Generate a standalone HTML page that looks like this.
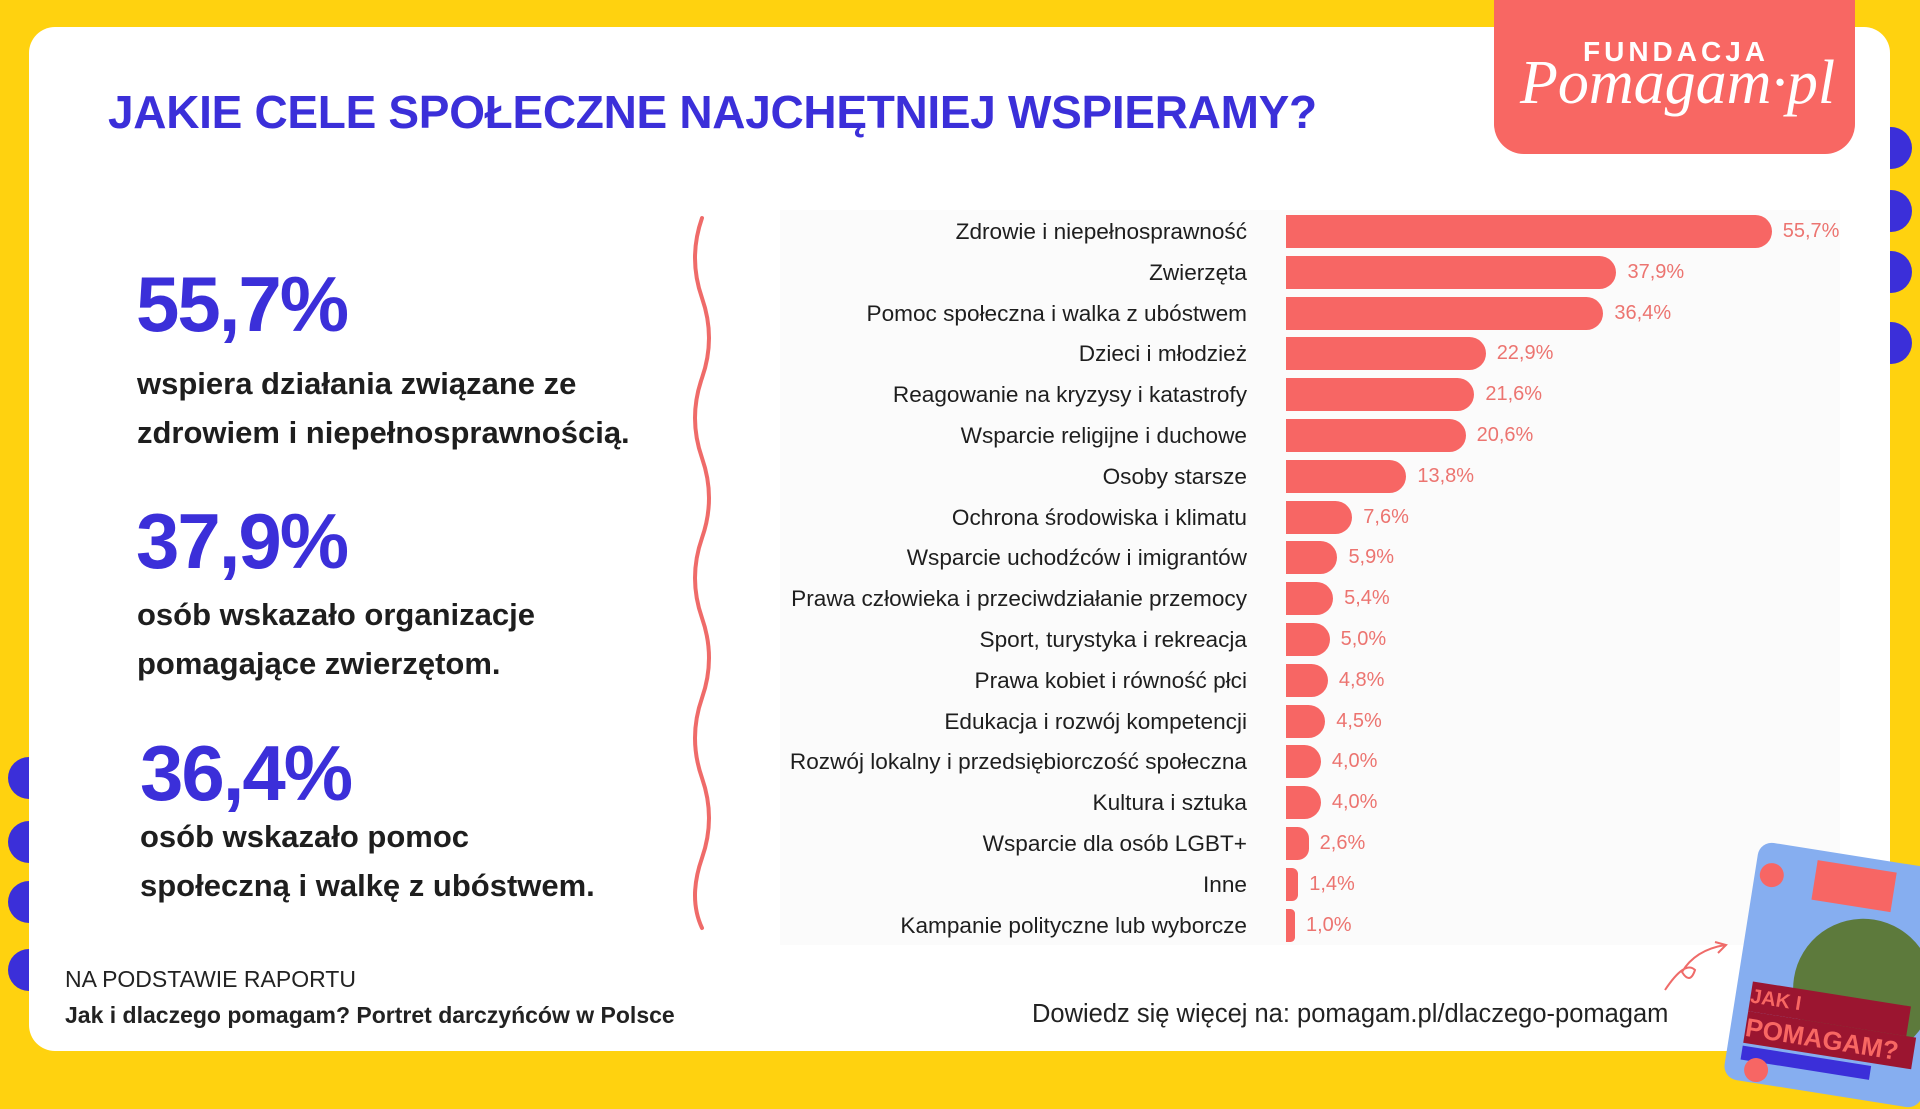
<!DOCTYPE html>
<html><head><meta charset="utf-8"><style>
body{margin:0;width:1920px;height:1080px;background:#ffd20f;position:relative;overflow:hidden;font-family:"Liberation Sans",sans-serif;}
.card{position:absolute;left:29px;top:27px;width:1861px;height:1024px;background:#fff;border-radius:26px;}
.a{position:absolute;white-space:nowrap;}
.dot{position:absolute;width:42px;height:42px;border-radius:50%;background:#3b2fd9;}
.big{position:absolute;font-size:78px;font-weight:bold;color:#3b2fd9;letter-spacing:-2px;}
.txt{position:absolute;font-size:31px;font-weight:bold;color:#1e1e1e;line-height:49px;}
.lab{position:absolute;right:673px;font-size:22.6px;color:#1e1e1e;text-align:right;white-space:nowrap;}
.bar{position:absolute;left:1286px;height:33px;background:#f76664;border-radius:0 17px 17px 0;}
.val{position:absolute;font-size:20px;color:#ec7470;}
</style></head><body>
<div class="dot" style="left:1870px;top:127px"></div>
<div class="dot" style="left:1870px;top:190px"></div>
<div class="dot" style="left:1870px;top:251px"></div>
<div class="dot" style="left:1870px;top:322px"></div>
<div class="dot" style="left:8px;top:757px"></div>
<div class="dot" style="left:8px;top:821px"></div>
<div class="dot" style="left:8px;top:881px"></div>
<div class="dot" style="left:8px;top:949px"></div>
<div class="card"></div>
<div style="position:absolute;left:1494px;top:0;width:361px;height:154px;background:#f86763;border-radius:0 0 30px 30px;"></div>
<div class="a" style="left:1583px;top:36px;color:#fff;font-size:28px;font-weight:bold;letter-spacing:4px;">FUNDACJA</div>
<div class="a" style="left:1520px;top:48px;color:#fff;font-size:62px;font-family:'Liberation Serif',serif;font-style:italic;">Pomagam·pl</div>
<div class="a" style="left:108px;top:85px;color:#3b2fd9;font-size:46px;font-weight:bold;letter-spacing:-0.3px;">JAKIE CELE SPOŁECZNE NAJCHĘTNIEJ WSPIERAMY?</div>

<div class="big" style="left:136px;top:259px">55,7%</div>
<div class="txt" style="left:137px;top:359px">wspiera działania związane ze<br>zdrowiem i niepełnosprawnością.</div>
<div class="big" style="left:136px;top:496px">37,9%</div>
<div class="txt" style="left:137px;top:590px">osób wskazało organizacje<br>pomagające zwierzętom.</div>
<div class="big" style="left:140px;top:728px">36,4%</div>
<div class="txt" style="left:140px;top:812px">osób wskazało pomoc<br>społeczną i walkę z ubóstwem.</div>

<svg style="position:absolute;left:680px;top:210px" width="40" height="730"><path d="M22 8 Q8 48 22 88 T22 168 T22 248 T22 328 T22 408 T22 488 T22 568 T22 648 T22 718" fill="none" stroke="#ef6b69" stroke-width="4" stroke-linecap="round"/></svg>

<div style="position:absolute;left:780px;top:210px;width:1060px;height:735px;background:#fbfbfb;"></div>

<div class="a" style="left:65px;top:966px;font-size:23px;color:#222;">NA PODSTAWIE RAPORTU</div>
<div class="a" style="left:65px;top:1002px;font-size:23px;font-weight:bold;color:#222;">Jak i dlaczego pomagam? Portret darczyńców w Polsce</div>
<div class="a" style="left:1032px;top:1000px;font-size:25.5px;color:#222;">Dowiedz się więcej na: pomagam.pl/dlaczego-pomagam</div>
<svg style="position:absolute;left:1660px;top:940px" width="70" height="55"><path d="M5 50 Q25 20 35 30 Q30 45 22 32 Q35 10 65 5 M55 2 L66 5 L58 13" fill="none" stroke="#ef6b69" stroke-width="2"/></svg>
<div style="position:absolute;left:1740px;top:855px;width:200px;height:240px;background:#86aef0;border-radius:14px;transform:rotate(9deg);overflow:hidden;">
 <div style="position:absolute;left:60px;top:10px;width:80px;height:40px;background:#f76664;"></div>
 <div style="position:absolute;left:55px;top:60px;width:140px;height:140px;border-radius:50%;background:#5d7a3c;"></div>
 <div style="position:absolute;left:15px;top:140px;width:160px;height:30px;background:#9b1530;color:#f86763;font-weight:bold;font-size:20px;line-height:30px;">JAK I DLACZEGO</div>
 <div style="position:absolute;left:15px;top:170px;width:170px;height:32px;background:#9b1530;color:#f86763;font-weight:bold;font-size:26px;line-height:32px;">POMAGAM?</div>
 <div style="position:absolute;left:15px;top:205px;width:130px;height:14px;background:#3b2fd9;"></div>
 <div style="position:absolute;left:5px;top:20px;width:24px;height:24px;border-radius:50%;background:#f76664;"></div>
 <div style="position:absolute;left:20px;top:215px;width:24px;height:24px;border-radius:50%;background:#f76664;"></div>
</div>

<div id="chart"></div>
<script>
var d=[["Zdrowie i niepełnosprawność",55.7],["Zwierzęta",37.9],["Pomoc społeczna i walka z ubóstwem",36.4],["Dzieci i młodzież",22.9],["Reagowanie na kryzysy i katastrofy",21.6],["Wsparcie religijne i duchowe",20.6],["Osoby starsze",13.8],["Ochrona środowiska i klimatu",7.6],["Wsparcie uchodźców i imigrantów",5.9],["Prawa człowieka i przeciwdziałanie przemocy",5.4],["Sport, turystyka i rekreacja",5.0],["Prawa kobiet i równość płci",4.8],["Edukacja i rozwój kompetencji",4.5],["Rozwój lokalny i przedsiębiorczość społeczna",4.0],["Kultura i sztuka",4.0],["Wsparcie dla osób LGBT+",2.6],["Inne",1.4],["Kampanie polityczne lub wyborcze",1.0]];
var h="";
d.forEach(function(r,i){var c=232+i*40.8;var w=Math.max(r[1]*8.72,9);
h+='<div class="lab" style="top:'+(c-13)+'px">'+r[0]+'</div>';
h+='<div class="bar" style="top:'+(c-17)+'px;width:'+w+'px;border-radius:0 '+Math.min(17,w/2)+'px '+Math.min(17,w/2)+'px 0"></div>';
h+='<div class="val" style="left:'+(1286+w+11)+'px;top:'+(c-12)+'px">'+r[1].toFixed(1).replace(".",",")+'%</div>';});
document.getElementById("chart").innerHTML=h;
</script>
</body></html>
